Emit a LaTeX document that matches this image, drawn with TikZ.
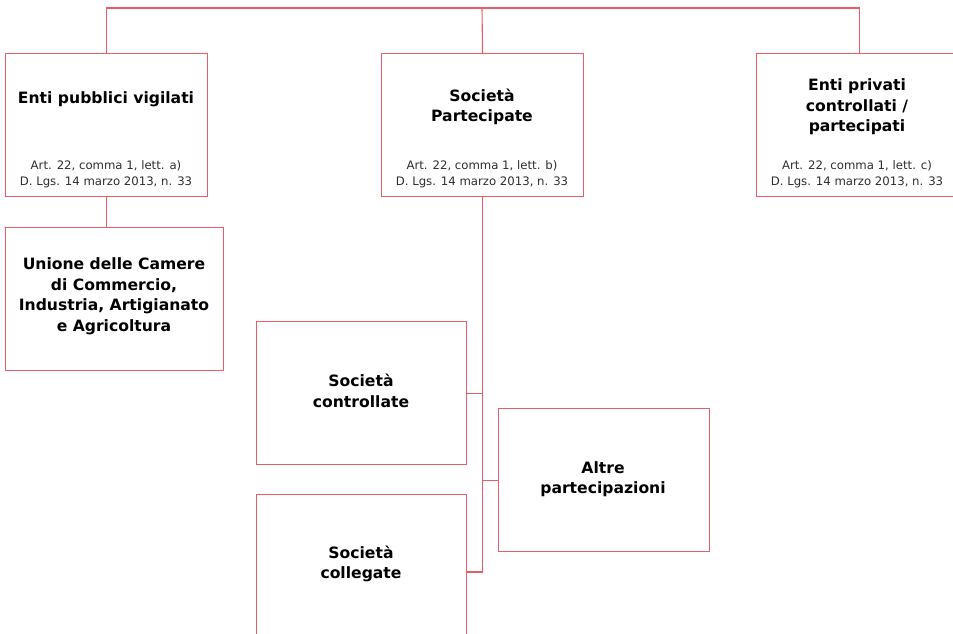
\documentclass[tikz,border=0pt]{standalone}
\usepackage{fontspec}
\setmainfont{DejaVu Sans}
\usetikzlibrary{calc}
\definecolor{lred}{RGB}{236,92,102}
\definecolor{cgray}{RGB}{45,45,45}
\begin{document}
\begin{tikzpicture}[x=1pt,y=-1pt,
  box/.style={draw=lred, line width=1.1pt, inner sep=0pt, anchor=north west},
  ttl/.style={font=\bfseries\fontsize{15.6}{20.5}\selectfont, align=center, inner sep=0pt},
  cit/.style={font=\fontsize{11.7}{16}\selectfont, align=center, inner sep=0pt, text=cgray},
  link/.style={draw=lred, line width=1.1pt}]
\path[use as bounding box] (0,0) rectangle (953,633);
\clip (0,0) rectangle (953,633);
% boxes
\node[box, minimum width=202pt, minimum height=143pt] (A) at (5,53) {};
\node[box, minimum width=202pt, minimum height=143pt] (B) at (381,53) {};
\node[box, minimum width=206pt, minimum height=143pt] (C) at (756,53) {};
\node[box, minimum width=218pt, minimum height=143pt] (D) at (5,227) {};
\node[box, minimum width=210pt, minimum height=143pt] (E) at (256,321) {};
\node[box, minimum width=211pt, minimum height=143pt] (F) at (498,408) {};
\node[box, minimum width=210pt, minimum height=160pt] (G) at (256,494) {};
% texts
\node[ttl] (At) at (106,99) {Enti pubblici vigilati};
\node[cit] (Ac) at (106,174) {Art. 22, comma 1, lett. a)\\D. Lgs. 14 marzo 2013, n. 33};
\node[ttl] (Bt) at (482,107) {Società\\Partecipate};
\node[cit] (Bc) at (482,174) {Art. 22, comma 1, lett. b)\\D. Lgs. 14 marzo 2013, n. 33};
\node[ttl] (Ct) at (857,107) {Enti privati\\controllati /\\partecipati};
\node[cit] (Cc) at (857,174) {Art. 22, comma 1, lett. c)\\D. Lgs. 14 marzo 2013, n. 33};
\node[ttl] (Dt) at (114,296) {Unione delle Camere\\di Commercio,\\Industria, Artigianato\\e Agricoltura};
\node[ttl] (Et) at (361,391) {Società\\controllate};
\node[ttl] (Ft) at (603,479) {Altre\\partecipazioni};
\node[ttl] (Gt) at (361,564) {Società\\collegate};
% connectors
\coordinate (top) at (482,8);
\coordinate (gj) at (466,572);
\draw[link] (A.north) |- (top) -| (C.north);
\draw[link] (B.north) -- (top);
\draw[link] (A.south) -- (A.south |- D.north);
\draw[link] (B.south) -- (B.south |- gj);
\draw[link] (E.east) -- (E.east -| B.south);
\draw[link] (F.west) -- (F.west -| B.south);
\draw[link] (gj) -- (gj -| B.south);
\end{tikzpicture}
\end{document}
